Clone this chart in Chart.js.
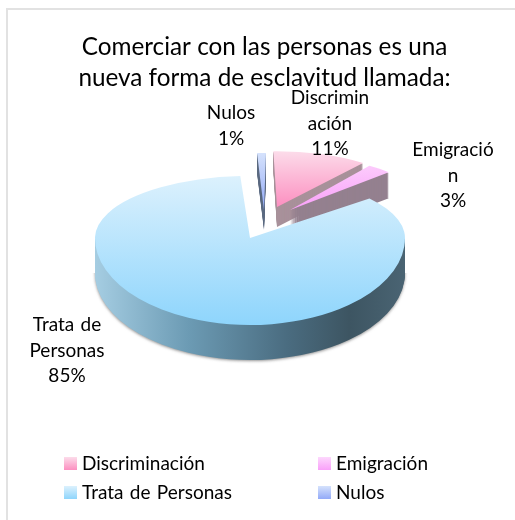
<!DOCTYPE html>
<html>
<head>
<meta charset="utf-8">
<script src="https://cdn.jsdelivr.net/npm/chart.js@4"></script>
<style>
    html, body { margin: 0; padding: 0; background: #fff; }
    canvas { display: block; }
</style>
</head>
<body>
<canvas id="pieChart" width="515" height="520"></canvas>
<script>
// Datos del grafico
const categories = ['Discriminación', 'Emigración', 'Trata de Personas', 'Nulos'];
const percentages = [11, 3, 85, 1];
const titleLines = ['Comerciar con las personas es una', 'nueva forma de esclavitud llamada:'];
const sliceLabelLines = [['Discrimin', 'ación'], ['Emigració', 'n'], ['Trata de', 'Personas'], ['Nulos']];

// Colores: claro arriba, saturado abajo, y pared lateral
const topColors = ['#fcdcea', '#fdd8fd', '#dcf1fd', '#d5e2fc'];
const bottomColors = ['#fc8fc0', '#f9a0f9', '#8ed5fc', '#93aaf8'];
const wallColors = ['#a8919a', '#94808f', null, '#5c6a80'];
const rimStops = [[0, '#a5cde2'], [0.3, '#6c9bb4'], [0.62, '#4a6c80'], [0.82, '#3d5562'], [1, '#4a6473']];

// Posicion de cada porcion en pantalla (vertice, escala, giro y altura de la pared)
const slicePlaces = [
    { x: 277, y: 207, scale: 0.9, turn: -1.5, depth: 20 },
    { x: 290, y: 210, scale: 0.88, turn: -4, depth: 26 },
    { x: 250, y: 238, scale: 1, turn: 0, depth: 35 },
    { x: 264, y: 210, scale: 0.92, turn: 0.8, depth: 20 }
];
const pieRx = 155;
const upperRy = 62;
const lowerRy = 87;
const bigSlice = 2;

const labelPlaces = [
    { x: 330, y: 98 },
    { x: 453, y: 150 },
    { x: 67, y: 325 },
    { x: 231, y: 113 }
];
const legendPlaces = [
    { x: 64, y: 457 },
    { x: 318, y: 457 },
    { x: 64, y: 486 },
    { x: 318, y: 486 }
];

const fontFamily = 'Lato, "Open Sans", sans-serif';

// Dibuja un arco con su propia transformacion, sin tocar el arco de Chart.js
function drawArc(ctx, arc, place, ry, dz, fill) {
    const kx = place.scale * pieRx / arc.outerRadius;
    const ky = place.scale * ry / arc.outerRadius;
    const local = {
        x: sx => arc.x + (sx - place.x) / kx,
        y: sy => arc.y + (sy - place.y - dz) / ky
    };
    ctx.save();
    ctx.translate(place.x, place.y + dz);
    ctx.scale(kx, ky);
    ctx.rotate(place.turn * Math.PI / 180);
    ctx.translate(-arc.x, -arc.y);
    const saved = arc.options.backgroundColor;
    arc.options.backgroundColor = fill(local);
    arc.draw(ctx);
    arc.options.backgroundColor = saved;
    ctx.restore();
}

function clipRows(ctx, from, to) {
    ctx.beginPath();
    ctx.rect(0, from, 515, to - from);
    ctx.clip();
}

function topFill(ctx, i, y0, y1) {
    return local => {
        const g = ctx.createLinearGradient(0, local.y(y0), 0, local.y(y1));
        g.addColorStop(0, topColors[i]);
        g.addColorStop(1, bottomColors[i]);
        return g;
    };
}

function rimFill(ctx) {
    return local => {
        const g = ctx.createLinearGradient(local.x(95), 0, local.x(405), 0);
        rimStops.forEach(s => g.addColorStop(s[0], s[1]));
        return g;
    };
}

const piePlugin = {
    id: 'pie3d',
    beforeDraw(chart) {
        // Marco gris del grafico original (solo arriba y a la izquierda)
        const ctx = chart.ctx;
        ctx.save();
        ctx.fillStyle = '#e2e2e2';
        ctx.fillRect(6, 8, 509, 2);
        ctx.fillRect(6, 8, 2, 512);
        ctx.restore();
    },
    beforeDatasetsDraw(chart) {
        const ctx = chart.ctx;
        const arcs = chart.getDatasetMeta(0).data;

        // Porciones separadas: pared y cara superior
        [3, 0, 1].forEach(i => {
            const place = slicePlaces[i];
            for (let dz = place.depth; dz > 0; dz--) {
                drawArc(ctx, arcs[i], place, upperRy, dz, () => wallColors[i]);
            }
            const top = place.y - upperRy * place.scale;
            drawArc(ctx, arcs[i], place, upperRy, 0, topFill(ctx, i, top, place.y));
        });

        // Porcion grande: borde inferior y luego la cara en dos mitades
        const place = slicePlaces[bigSlice];
        const arc = arcs[bigSlice];
        for (let dz = place.depth; dz > 0; dz--) {
            ctx.save();
            clipRows(ctx, place.y + dz, 520);
            if (dz === place.depth) {
                ctx.shadowColor = 'rgba(60, 60, 60, 0.55)';
                ctx.shadowBlur = 3;
                ctx.shadowOffsetY = 1;
            }
            drawArc(ctx, arc, place, lowerRy, dz, rimFill(ctx));
            ctx.restore();
        }
        ctx.save();
        clipRows(ctx, 0, place.y + 0.5);
        drawArc(ctx, arc, place, upperRy, 0, topFill(ctx, bigSlice, 176, 325));
        ctx.restore();
        ctx.save();
        clipRows(ctx, place.y, 520);
        drawArc(ctx, arc, place, lowerRy, 0, topFill(ctx, bigSlice, 176, 325));
        ctx.restore();

        return false;
    },
    afterDraw(chart) {
        const ctx = chart.ctx;
        ctx.save();
        ctx.fillStyle = '#000';
        ctx.wordSpacing = '1.5px';

        // Etiquetas de las porciones
        ctx.font = '19px ' + fontFamily;
        ctx.textAlign = 'center';
        ctx.textBaseline = 'middle';
        categories.forEach((name, i) => {
            const lines = sliceLabelLines[i].concat(percentages[i] + '%');
            lines.forEach((line, n) => {
                ctx.fillText(line, labelPlaces[i].x, labelPlaces[i].y + n * 25.5);
            });
        });

        // Leyenda en dos columnas
        ctx.textAlign = 'left';
        categories.forEach((name, i) => {
            const p = legendPlaces[i];
            const g = ctx.createLinearGradient(0, p.y, 0, p.y + 13);
            g.addColorStop(0, topColors[i]);
            g.addColorStop(1, bottomColors[i]);
            ctx.fillStyle = g;
            ctx.fillRect(p.x, p.y, 13, 13);
            ctx.fillStyle = '#000';
            ctx.fillText(name, p.x + 18, p.y + 6.5);
        });
        ctx.restore();
    }
};

new Chart(document.getElementById('pieChart'), {
    type: 'pie',
    data: {
        labels: categories,
        datasets: [{
            data: percentages,
            backgroundColor: bottomColors,
            borderWidth: 0
        }]
    },
    options: {
        responsive: false,
        animation: false,
        layout: { padding: { left: 14 } },
        plugins: {
            legend: { display: false },
            tooltip: { enabled: false },
            title: {
                display: true,
                text: titleLines,
                color: '#000',
                font: { family: fontFamily, size: 24.3, weight: 'normal', lineHeight: 1.3 },
                padding: { top: 31, bottom: 10 }
            }
        }
    },
    plugins: [piePlugin]
});
</script>
</body>
</html>
